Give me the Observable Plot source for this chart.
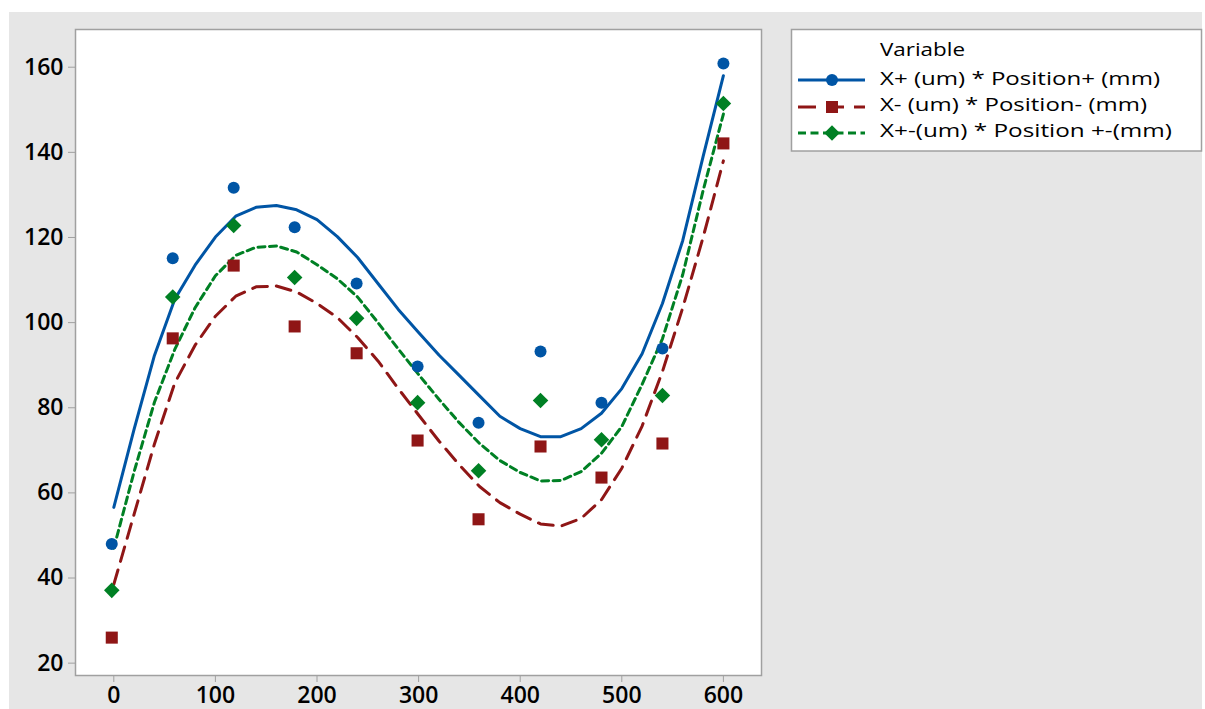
<!DOCTYPE html>
<html>
<head>
<meta charset="utf-8">
<script src="https://cdn.jsdelivr.net/npm/d3@7"></script>
<script src="https://cdn.jsdelivr.net/npm/@observablehq/plot@0.6"></script>
<style>
  html, body { margin: 0; padding: 0; background: #ffffff; }
  #page { position: relative; width: 1205px; height: 709px; overflow: hidden; }
  #bg { position: absolute; left: 9px; top: 12px; right: 3px; bottom: 0; background: #e6e6e6; }
  #chart { position: absolute; left: 0; top: 0; }
  #legend { position: absolute; left: 0; top: 0; }
  #chart svg text { font-size: 23px !important; font-weight: 600 !important; font-family: 'Open Sans', 'Noto Sans', sans-serif !important; }
</style>
</head>
<body>
<div id="page">
  <div id="bg"></div>
  <div id="chart"></div>
  <svg id="legend" width="1205" height="709"></svg>
</div>
<script>
// ---- observed data ----
const xPos = [-2, 58, 118, 178, 239, 299, 359, 420, 480, 540, 600];
const plusVals  = [48.0, 115.1, 131.7, 122.4, 109.2, 89.7, 76.5, 93.2, 81.2, 93.9, 160.9];
const minusVals = [26.0, 96.3, 113.4, 99.1, 92.8, 72.3, 53.8, 70.9, 63.6, 71.6, 142.1];
const bothVals  = [37.1, 106.0, 122.8, 110.6, 101.0, 81.2, 65.2, 81.7, 72.5, 82.9, 151.5];

// ---- fitted curves ----
const fitX = [0, 20, 40, 60, 80, 100, 120, 140, 160, 180, 200, 220, 240, 260, 280, 300,
              320, 340, 360, 380, 400, 420, 440, 460, 480, 500, 520, 540, 560, 580, 600];
const plusFit  = [56.6, 75.0, 92.3, 105.5, 113.5, 120.1, 125.0, 127.1, 127.5, 126.5, 124.2,
                  120.2, 115.3, 109.2, 103.1, 97.7, 92.4, 87.6, 82.8, 78.0, 75.1, 73.2, 73.2,
                  75.1, 78.7, 84.5, 92.7, 104.5, 119.3, 139.0, 158.0];
const minusFit = [38.5, 55.0, 71.5, 85.8, 94.7, 101.5, 106.2, 108.4, 108.6, 107.2, 104.5,
                  101.2, 96.5, 91.0, 84.5, 78.3, 72.2, 66.6, 61.5, 57.7, 55.0, 52.7, 52.2,
                  54.0, 58.4, 65.8, 75.7, 88.5, 103.5, 120.0, 138.0];
const bothFit  = [47.0, 65.0, 81.3, 93.7, 103.5, 111.0, 115.8, 117.7, 118.0, 116.6, 113.6,
                  110.3, 106.0, 100.0, 93.8, 87.8, 82.0, 76.5, 71.6, 67.6, 64.8, 62.8, 62.9,
                  65.0, 69.3, 75.6, 85.5, 96.2, 111.3, 131.0, 149.0];

const seriesNames = ["X+ (um) * Position+ (mm)", "X- (um) * Position- (mm)", "X+-(um) * Position +-(mm)"];
const legendTitle = "Variable";
const xTicks = [0, 100, 200, 300, 400, 500, 600];
const yTicks = [20, 40, 60, 80, 100, 120, 140, 160];

const colors = ["#0055a5", "#8f1616", "#008024"];
const symbols = ["circle", "square", "diamond2"];
const dashes = [null, "15,9", "7,4.5"];

const pts = (vals) => xPos.map((x, i) => ({x, y: vals[i]}));
const fit = (vals) => fitX.map((x, i) => ({x, y: vals[i]}));
const ptsSets = [pts(plusVals), pts(minusVals), pts(bothVals)];
const fitSets = [fit(plusFit), fit(minusFit), fit(bothFit)];
const symR = [6, 6.8, 7];

const marks = [
  Plot.frame({fill: "#ffffff", stroke: "#a0a0a0", strokeWidth: 1.5}),
  Plot.axisX({ticks: xTicks, tickSize: 7, tickPadding: 4, stroke: "#a0a0a0", fill: "#000", label: null}),
  Plot.axisY({ticks: yTicks, tickSize: 7, tickPadding: 5, stroke: "#a0a0a0", fill: "#000", label: null})
];
fitSets.forEach((d, i) => {
  marks.push(Plot.line(d, {x: "x", y: "y", stroke: colors[i], strokeWidth: 3,
    strokeDasharray: dashes[i] || undefined, strokeLinejoin: "round"}));
});
ptsSets.forEach((d, i) => {
  marks.push(Plot.dot(d, {x: "x", y: "y", symbol: () => symbols[i], r: symR[i], fill: colors[i], stroke: "none"}));
});

const chart = Plot.plot({
  width: 1205,
  height: 709,
  marginLeft: 75,
  marginTop: 29,
  marginRight: 444,
  marginBottom: 34,
  x: {domain: [-37.7, 637.5]},
  y: {domain: [17.1, 168.86]},
  symbol: {type: "identity"},
  style: {background: "transparent", fontFamily: "'Open Sans', 'Noto Sans', sans-serif", fontSize: "23px", fontWeight: 600, color: "#000"},
  marks
});
document.getElementById("chart").appendChild(chart);

// ---- legend ----
const lg = d3.select("#legend");
const font = "'Open Sans', 'Noto Sans', sans-serif";
lg.append("rect").attr("x", 791.5).attr("y", 29.5).attr("width", 410).attr("height", 121.5)
  .attr("fill", "#fff").attr("stroke", "#a0a0a0").attr("stroke-width", 1.5);
lg.append("text").attr("x", 880).attr("y", 56).text(legendTitle)
  .attr("font-family", font).attr("font-size", 19).attr("fill", "#000")
  .attr("textLength", 85).attr("lengthAdjust", "spacingAndGlyphs");
const rowY = [80, 107, 133];
const textY = [84.5, 110.5, 136.5];
const textW = [280, 267, 292];
seriesNames.forEach((name, i) => {
  const ln = lg.append("line").attr("x1", 798).attr("x2", 865).attr("y1", rowY[i]).attr("y2", rowY[i])
    .attr("stroke", colors[i]).attr("stroke-width", 3);
  if (dashes[i]) ln.attr("stroke-dasharray", i === 1 ? "18,10" : "8,4.5");
  const sym = d3.symbol().type(i === 0 ? d3.symbolCircle : i === 1 ? d3.symbolSquare : d3.symbolDiamond2)
    .size(Math.PI * symR[i] * symR[i]);
  lg.append("path").attr("d", sym()).attr("transform", `translate(832,${rowY[i]})`).attr("fill", colors[i]);
  lg.append("text").attr("x", 880).attr("y", textY[i]).text(name)
    .attr("font-family", font).attr("font-size", 19).attr("fill", "#000")
    .attr("textLength", textW[i]).attr("lengthAdjust", "spacingAndGlyphs");
});
</script>
</body>
</html>
